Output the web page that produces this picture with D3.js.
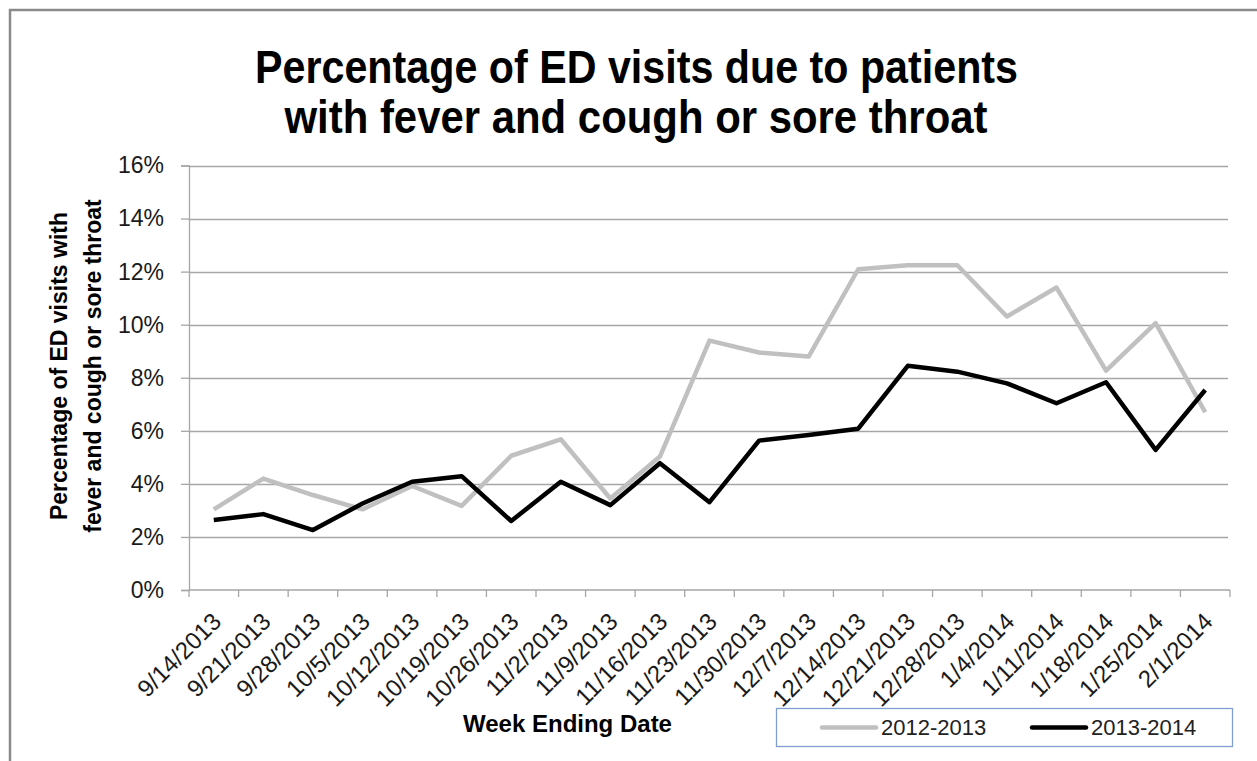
<!DOCTYPE html>
<html>
<head>
<meta charset="utf-8">
<script src="https://cdn.jsdelivr.net/npm/d3@7"></script>
<style>
  html, body { margin: 0; padding: 0; background: #fff; }
  text { font-family: "Liberation Sans", Arial, sans-serif; fill: #1a1a1a; }
</style>
</head>
<body>
<div id="chart"></div>
<script>
;(function () {

    // Week ending dates (category axis)
    var weeks = ['9/14/2013', '9/21/2013', '9/28/2013', '10/5/2013', '10/12/2013',
        '10/19/2013', '10/26/2013', '11/2/2013', '11/9/2013', '11/16/2013',
        '11/23/2013', '11/30/2013', '12/7/2013', '12/14/2013', '12/21/2013',
        '12/28/2013', '1/4/2014', '1/11/2014', '1/18/2014', '1/25/2014', '2/1/2014'];

    // Percent of ED visits
    var season2012 = [3.04, 4.20, 3.58, 3.04, 3.92, 3.17, 5.06, 5.68, 3.45, 5.03,
        9.40, 8.95, 8.80, 12.09, 12.24, 12.24, 10.31, 11.40, 8.27, 10.06, 6.70];
    var season2013 = [2.64, 2.86, 2.26, 3.26, 4.08, 4.29, 2.60, 4.08, 3.20, 4.78,
        3.31, 5.63, 5.84, 6.08, 8.45, 8.23, 7.79, 7.04, 7.83, 5.28, 7.54];

    var yTicks = [0, 2, 4, 6, 8, 10, 12, 14, 16];
    var seriesNames = ['2012-2013', '2013-2014'];

    var width = 1257, height = 761;
    var left = 189, right = 1230, top = 165.5, bottom = 590;

    var svg = d3.select('#chart').append('svg')
        .attr('width', width)
        .attr('height', height);

    // outer frame, only the top and left edges show
    svg.append('rect')
        .attr('x', 10).attr('y', 10)
        .attr('width', 1400).attr('height', 1000)
        .attr('fill', 'none')
        .attr('stroke', '#8a8a8a')
        .attr('stroke-width', 2.5);

    var x = d3.scaleBand().domain(weeks).range([left, right]);
    var y = d3.scaleLinear().domain([0, 16]).range([bottom, top]);
    var cx = function (d) { return x(d) + x.bandwidth() / 2; };

    // title
    var title = svg.append('g').attr('font-weight', 'bold').attr('font-size', 47);
    title.append('text')
        .attr('x', 636.5).attr('y', 83)
        .attr('text-anchor', 'middle')
        .attr('textLength', 763).attr('lengthAdjust', 'spacingAndGlyphs')
        .style('fill', '#000')
        .text('Percentage of ED visits due to patients');
    title.append('text')
        .attr('x', 636).attr('y', 133)
        .attr('text-anchor', 'middle')
        .attr('textLength', 703).attr('lengthAdjust', 'spacingAndGlyphs')
        .style('fill', '#000')
        .text('with fever and cough or sore throat');

    // gridlines
    svg.append('g')
        .selectAll('line')
        .data(yTicks.slice(1))
        .enter()
        .append('line')
        .attr('x1', left).attr('x2', right - 2)
        .attr('y1', function (d) { return Math.round(y(d)) + 0.5; })
        .attr('y2', function (d) { return Math.round(y(d)) + 0.5; })
        .attr('stroke', '#a6a6a6')
        .attr('stroke-width', 1.3);

    // y axis
    var yAxis = svg.append('g')
        .attr('transform', 'translate(' + left + ',0)')
        .call(d3.axisLeft(y).tickValues(yTicks).tickSize(8).tickPadding(17)
            .tickFormat(function (d) { return d + '%'; }));
    yAxis.select('.domain').attr('stroke', '#a6a6a6').attr('stroke-width', 1.3);
    yAxis.selectAll('.tick line').attr('stroke', '#a6a6a6').attr('stroke-width', 1.3);
    yAxis.selectAll('.tick text')
        .attr('font-size', 23)
        .attr('font-family', '"Liberation Sans", Arial, sans-serif')
        .style('fill', '#1a1a1a');

    // x axis: line, boundary ticks, rotated labels
    var xa = svg.append('g');
    xa.append('line')
        .attr('x1', left).attr('x2', right)
        .attr('y1', bottom).attr('y2', bottom)
        .attr('stroke', '#a6a6a6').attr('stroke-width', 1.3);
    xa.selectAll('line.tk')
        .data(d3.range(weeks.length + 1))
        .enter()
        .append('line')
        .attr('class', 'tk')
        .attr('x1', function (i) { return left + i * x.bandwidth(); })
        .attr('x2', function (i) { return left + i * x.bandwidth(); })
        .attr('y1', bottom).attr('y2', bottom + 7)
        .attr('stroke', '#a6a6a6').attr('stroke-width', 1.3);
    xa.selectAll('text')
        .data(weeks)
        .enter()
        .append('text')
        .attr('transform', function (d) { return 'translate(' + (cx(d) + 3) + ',' + 617 + ') rotate(-45)'; })
        .attr('text-anchor', 'end')
        .attr('dy', '0.35em')
        .attr('font-size', 24)
        .text(function (d) { return d; });

    // axis titles
    var yt = svg.append('text')
        .attr('transform', 'translate(0,366) rotate(-90)')
        .attr('text-anchor', 'middle')
        .attr('font-weight', 'bold')
        .attr('font-size', 23)
        .style('fill', '#000');
    yt.append('tspan').attr('x', 0).attr('y', 67).text('Percentage of ED visits with');
    yt.append('tspan').attr('x', 0).attr('y', 101).text('fever and cough or sore throat');

    svg.append('text')
        .attr('x', 567.5).attr('y', 732)
        .attr('text-anchor', 'middle')
        .attr('font-weight', 'bold')
        .attr('font-size', 24)
        .style('fill', '#000')
        .text('Week Ending Date');

    // lines
    var line = d3.line()
        .x(function (d, i) { return cx(weeks[i]); })
        .y(function (d) { return y(d); });

    var series = [
        { name: seriesNames[0], values: season2012, color: '#c0c0c0', w: 4.5 },
        { name: seriesNames[1], values: season2013, color: '#000000', w: 4.5 }
    ];

    svg.append('g')
        .selectAll('path')
        .data(series)
        .enter()
        .append('path')
        .attr('d', function (s) { return line(s.values); })
        .attr('fill', 'none')
        .attr('stroke', function (s) { return s.color; })
        .attr('stroke-width', function (s) { return s.w; })
        .attr('stroke-linejoin', 'round');

    // legend
    var lg = svg.append('g');
    lg.append('rect')
        .attr('x', 776.5).attr('y', 708.5)
        .attr('width', 456).attr('height', 38)
        .attr('fill', '#fff')
        .attr('stroke', '#7f9fd0')
        .attr('stroke-width', 1.3);
    var items = lg.selectAll('g')
        .data(series)
        .enter()
        .append('g')
        .attr('transform', function (s, i) { return 'translate(' + (822 + i * 210) + ',0)'; });
    items.append('line')
        .attr('x1', 0).attr('x2', 54)
        .attr('y1', 727.5).attr('y2', 727.5)
        .attr('stroke', function (s) { return s.color; })
        .attr('stroke-width', 4.5)
        .attr('stroke-linecap', 'round');
    items.append('text')
        .attr('x', 59).attr('y', 735)
        .attr('font-size', 22)
        .style('fill', '#222')
        .text(function (s) { return s.name; });

})();
</script>
</body>
</html>
